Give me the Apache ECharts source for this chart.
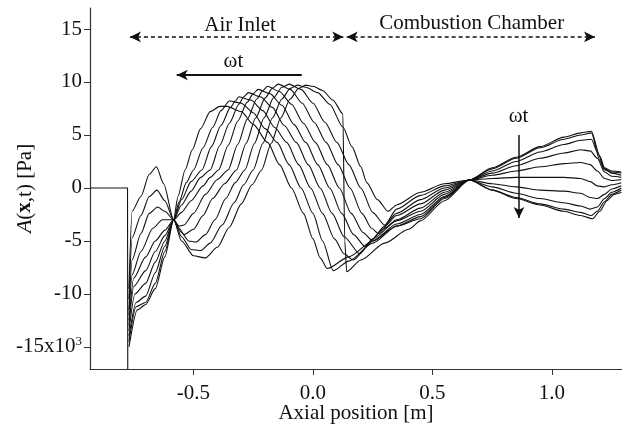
<!DOCTYPE html>
<html>
<head>
<meta charset="UTF-8">
<title>pressure_wave</title>
<script src="https://cdn.jsdelivr.net/npm/echarts@6/dist/echarts.min.js"></script>
<style>
  html, body { margin: 0; padding: 0; background: #fff; }
  #main { width: 622px; height: 428px; }
</style>
</head>
<body>
<div id="main"></div>
<script>
// tick positions
var xTicks = [-0.5, 0, 0.5, 1.0];
var yTicks = [-15, -10, -5, 0, 5, 10, 15];

// upstream part (zero) with the spike at the inlet
var upstream = [[-0.933, 0], [-0.776, 0], [-0.775, -17.08]];

// pressure profiles at successive phases [x (m), p (x10^3 Pa)]
var phase0 = [[-0.770,-9.5],[-0.757,-2.2],[-0.72,-0.8],[-0.685,1.3],[-0.655,2.0],[-0.625,0.4],[-0.583,-3.0],[-0.55,-5.0],[-0.50,-6.4],[-0.45,-6.6],[-0.40,-5.6],[-0.35,-3.7],[-0.30,-1.5],[-0.255,0.3],[-0.215,1.7],[-0.175,4.2],[-0.135,6.6],[-0.095,8.4],[-0.06,9.4],[-0.03,9.7],[0.0,9.6],[0.04,9.2],[0.083,8.3],[0.125,7.0],[0.133,-5.0],[0.141,-7.9],[0.2,-6.8],[0.3,-5.2],[0.4,-3.9],[0.45,-3.1],[0.55,-1.2],[0.655,0.75],[0.75,1.9],[0.85,2.9],[0.95,3.9],[1.05,4.8],[1.12,5.2],[1.165,5.35],[1.2,3.0],[1.22,1.9],[1.25,1.6],[1.29,1.5]];
var phase1 = [[-0.770,-10.5],[-0.757,-4.7],[-0.72,-2.6],[-0.685,-0.8],[-0.653,-0.2],[-0.62,-1.2],[-0.583,-3.0],[-0.55,-4.6],[-0.51,-5.8],[-0.47,-5.9],[-0.43,-5.2],[-0.38,-3.5],[-0.33,-1.4],[-0.29,0.3],[-0.25,1.7],[-0.21,4.2],[-0.17,6.6],[-0.13,8.4],[-0.095,9.4],[-0.065,9.7],[-0.03,9.5],[0.02,9.0],[0.07,7.9],[0.125,5.75],[0.163,3.9],[0.2,2.0],[0.225,0.5],[0.27,-1.1],[0.314,-2.2],[0.35,-1.6],[0.45,-0.4],[0.55,0.4],[0.655,0.75],[0.75,-0.2],[0.85,-1.0],[0.95,-1.6],[1.05,-2.2],[1.12,-2.6],[1.17,-2.9],[1.2,-2.2],[1.23,-1.2],[1.26,-0.6],[1.29,-0.4]];
var phase2 = [[-0.770,-11.5],[-0.757,-6.8],[-0.72,-4.3],[-0.685,-2.4],[-0.65,-1.8],[-0.62,-2.2],[-0.583,-3.0],[-0.55,-4.2],[-0.52,-5.0],[-0.49,-5.1],[-0.45,-4.4],[-0.41,-3.0],[-0.365,-1.0],[-0.325,0.5],[-0.285,1.7],[-0.245,4.2],[-0.205,6.6],[-0.165,8.5],[-0.13,9.5],[-0.10,9.8],[-0.05,9.3],[0.0,8.0],[0.05,6.2],[0.10,4.3],[0.15,2.2],[0.20,0.0],[0.25,-2.3],[0.30,-3.5],[0.35,-2.0],[0.45,-0.7],[0.55,0.2],[0.655,0.75],[0.75,-0.2],[0.85,-0.9],[0.95,-1.5],[1.05,-2.0],[1.12,-2.3],[1.165,-2.6],[1.19,-2.2],[1.22,-1.3],[1.25,-0.6],[1.29,-0.2]];
var phase3 = [[-0.770,-12.0],[-0.757,-8.2],[-0.72,-6.0],[-0.67,-3.8],[-0.63,-3.0],[-0.583,-3.0],[-0.56,-3.8],[-0.54,-4.4],[-0.50,-3.9],[-0.46,-2.6],[-0.42,-1.0],[-0.37,0.4],[-0.32,1.7],[-0.28,4.2],[-0.24,6.6],[-0.20,8.5],[-0.17,9.4],[-0.145,9.8],[-0.095,9.3],[-0.045,8.0],[0.005,6.2],[0.055,4.3],[0.105,2.2],[0.155,0.0],[0.205,-2.4],[0.245,-3.8],[0.273,-4.3],[0.35,-2.4],[0.45,-1.1],[0.55,0.0],[0.655,0.75],[0.75,0.1],[0.85,-0.5],[0.95,-1.0],[1.05,-1.4],[1.12,-1.7],[1.16,-2.0],[1.19,-1.8],[1.22,-1.0],[1.25,-0.4],[1.29,0.0]];
var phase4 = [[-0.770,-12.5],[-0.75,-8.5],[-0.70,-6.5],[-0.66,-5.0],[-0.62,-4.0],[-0.583,-3.0],[-0.56,-3.6],[-0.54,-3.5],[-0.50,-2.4],[-0.45,-0.6],[-0.40,0.8],[-0.355,1.7],[-0.315,4.1],[-0.275,6.5],[-0.235,8.4],[-0.21,9.2],[-0.19,9.6],[-0.14,9.1],[-0.09,7.9],[-0.04,6.1],[0.01,4.3],[0.06,2.2],[0.11,0.0],[0.16,-2.4],[0.21,-4.2],[0.245,-4.9],[0.3,-3.6],[0.35,-2.6],[0.45,-1.5],[0.55,-0.2],[0.655,0.75],[0.75,0.4],[0.85,0.1],[0.95,-0.2],[1.05,-0.3],[1.12,-0.5],[1.16,-0.9],[1.19,-1.0],[1.22,-0.6],[1.25,-0.1],[1.29,0.2]];
var phase5 = [[-0.770,-13.0],[-0.75,-9.3],[-0.70,-7.8],[-0.66,-6.0],[-0.62,-4.5],[-0.583,-3.0],[-0.55,-2.3],[-0.51,-1.2],[-0.46,0.2],[-0.43,1.0],[-0.395,1.7],[-0.355,4.0],[-0.315,6.3],[-0.275,8.1],[-0.25,8.9],[-0.23,9.3],[-0.18,8.9],[-0.13,7.8],[-0.08,6.0],[-0.03,4.3],[0.02,2.2],[0.07,0.0],[0.12,-2.4],[0.17,-4.4],[0.217,-5.5],[0.3,-3.8],[0.35,-3.0],[0.45,-1.9],[0.55,-0.4],[0.655,0.75],[0.75,0.9],[0.85,1.0],[0.95,1.0],[1.05,1.0],[1.12,0.9],[1.16,0.6],[1.19,0.2],[1.22,0.1],[1.25,0.3],[1.29,0.5]];
var phase6 = [[-0.770,-13.5],[-0.745,-10.0],[-0.70,-9.0],[-0.66,-7.0],[-0.62,-5.0],[-0.583,-3.0],[-0.55,-1.6],[-0.51,-0.3],[-0.47,1.0],[-0.43,1.7],[-0.39,4.0],[-0.35,6.1],[-0.31,7.9],[-0.29,8.6],[-0.27,9.0],[-0.22,8.6],[-0.17,7.6],[-0.12,5.9],[-0.07,4.3],[-0.02,2.2],[0.03,0.0],[0.08,-2.4],[0.13,-4.6],[0.196,-6.2],[0.25,-4.8],[0.35,-3.1],[0.45,-2.2],[0.55,-0.6],[0.655,0.75],[0.75,1.2],[0.85,1.6],[0.95,2.0],[1.05,2.3],[1.12,2.4],[1.16,2.2],[1.19,1.6],[1.22,0.9],[1.25,0.7],[1.29,0.8]];
var phase7 = [[-0.770,-14.0],[-0.74,-10.8],[-0.70,-10.2],[-0.66,-8.0],[-0.62,-5.5],[-0.583,-3.0],[-0.55,-1.1],[-0.51,0.6],[-0.465,1.7],[-0.425,3.9],[-0.385,5.9],[-0.345,7.6],[-0.325,8.2],[-0.31,8.6],[-0.26,8.3],[-0.21,7.3],[-0.16,5.7],[-0.11,4.3],[-0.06,2.2],[-0.01,0.0],[0.04,-2.4],[0.09,-4.8],[0.13,-6.2],[0.168,-6.8],[0.25,-5.0],[0.35,-3.4],[0.45,-2.5],[0.55,-0.8],[0.655,0.75],[0.75,1.4],[0.85,2.1],[0.95,2.8],[1.05,3.3],[1.12,3.6],[1.16,3.5],[1.19,2.8],[1.22,1.5],[1.25,1.1],[1.29,1.0]];
var phase8 = [[-0.770,-14.5],[-0.74,-11.2],[-0.70,-10.8],[-0.66,-9.0],[-0.62,-6.0],[-0.583,-3.0],[-0.56,-1.3],[-0.53,0.5],[-0.50,1.7],[-0.46,3.8],[-0.42,5.7],[-0.385,7.3],[-0.35,8.2],[-0.30,8.0],[-0.25,7.1],[-0.20,5.6],[-0.15,4.3],[-0.10,2.2],[-0.05,0.0],[0.0,-2.4],[0.04,-5.0],[0.085,-7.8],[0.15,-6.9],[0.25,-5.2],[0.35,-3.6],[0.45,-2.7],[0.55,-0.9],[0.655,0.75],[0.75,1.6],[0.85,2.5],[0.95,3.4],[1.05,4.1],[1.12,4.5],[1.165,4.6],[1.19,3.4],[1.22,1.8],[1.25,1.4],[1.29,1.2]];
var phase9 = [[-0.770,-15.0],[-0.735,-11.5],[-0.70,-11.0],[-0.66,-9.5],[-0.62,-6.5],[-0.583,-3.0],[-0.565,-0.8],[-0.535,1.7],[-0.505,3.6],[-0.47,5.6],[-0.43,7.2],[-0.39,7.7],[-0.36,7.7],[-0.30,7.2],[-0.25,6.0],[-0.19,4.3],[-0.14,2.2],[-0.09,0.0],[-0.04,-2.4],[0.0,-4.8],[0.03,-6.6],[0.06,-7.6],[0.15,-6.5],[0.25,-5.0],[0.35,-3.6],[0.45,-2.9],[0.55,-1.0],[0.655,0.75],[0.75,1.8],[0.85,2.8],[0.95,3.8],[1.05,4.6],[1.12,5.0],[1.165,5.2],[1.2,2.6],[1.22,1.7],[1.25,1.5],[1.29,1.4]];

var phases = [phase0, phase1, phase2, phase3, phase4, phase5, phase6, phase7, phase8, phase9];

var serif = '"Liberation Serif", "DejaVu Serif", serif';
var ink = '#111';

var myChart = echarts.init(document.getElementById('main'));

var series = phases.map(function (d) {
  return {
    type: 'line',
    data: d,
    symbol: 'none',
    silent: true,
    smooth: 0.25,
    smoothMonotone: 'x',
    lineStyle: { color: ink, width: 1.1 }
  };
});

// flat upstream line, carries the region / direction arrows
series.unshift({
  type: 'line',
  data: upstream,
  symbol: 'none',
  silent: true,
  lineStyle: { color: ink, width: 1.1 },
  markLine: {
    silent: true,
    animation: false,
    label: { show: false },
    symbolSize: [8, 11],
    data: [
      [{ coord: [-0.766, 14.25], symbol: 'arrow', lineStyle: { color: ink, width: 1.5, type: [4, 3] } },
       { coord: [0.127, 14.25], symbol: 'arrow' }],
      [{ coord: [0.141, 14.25], symbol: 'arrow', lineStyle: { color: ink, width: 1.5, type: [4, 3] } },
       { coord: [1.18, 14.25], symbol: 'arrow' }],
      [{ coord: [-0.047, 10.66], symbol: 'none', lineStyle: { color: ink, width: 2, type: 'solid' } },
       { coord: [-0.570, 10.66], symbol: 'arrow' }],
      [{ coord: [0.862, 5.0], symbol: 'none', lineStyle: { color: ink, width: 1.5, type: 'solid' } },
       { coord: [0.862, -2.83], symbol: 'arrow' }]
    ]
  }
});

option = {
  animation: false,
  backgroundColor: '#fff',
  grid: { left: 90, right: 0, top: 8, bottom: 59, containLabel: false, outerBoundsMode: 'none' },
  xAxis: {
    type: 'value',
    min: -0.933,
    max: 1.293,
    axisLine: { onZero: false, lineStyle: { color: '#333', width: 1.2 } },
    axisTick: { customValues: xTicks, length: 6, lineStyle: { color: '#333' } },
    axisLabel: {
      customValues: xTicks, margin: 14, color: ink, fontFamily: serif, fontSize: 21,
      formatter: function (v) { return v.toFixed(1); }
    },
    splitLine: { show: false },
    name: 'Axial position [m]',
    nameLocation: 'middle',
    nameGap: 34,
    nameMoveOverlap: false,
    nameTextStyle: { color: ink, fontFamily: serif, fontSize: 21 }
  },
  yAxis: {
    type: 'value',
    min: -17.08,
    max: 16.98,
    axisLine: { onZero: false, lineStyle: { color: '#333', width: 1.2 } },
    axisTick: { customValues: yTicks, length: 6, lineStyle: { color: '#333' } },
    axisLabel: {
      customValues: yTicks, margin: 8, color: ink, fontFamily: serif, fontSize: 21,
      formatter: function (v) { return v === -15 ? '-15x10{sup|3}' : String(v); },
      rich: { sup: { fontSize: 13, fontFamily: serif, color: ink, verticalAlign: 'top', padding: [0, 0, 10, 0] } }
    },
    splitLine: { show: false },
    name: '{a|A}({b|x},t) [Pa]',
    nameLocation: 'middle',
    nameGap: 54,
    nameRotate: 90,
    nameMoveOverlap: false,
    nameTextStyle: {
      color: ink, fontFamily: serif, fontSize: 21,
      rich: {
        a: { fontStyle: 'italic', fontFamily: serif, fontSize: 22, color: ink },
        b: { fontWeight: 'bold', fontFamily: serif, fontSize: 21, color: ink }
      }
    }
  },
  series: series
};
myChart.setOption(option);

// text annotations placed in data coordinates
var notes = [
  { text: 'Air Inlet', at: [-0.305, 15.33] },
  { text: 'Combustion Chamber', at: [0.664, 15.52] },
  { text: '\u03c9t', at: [-0.333, 11.93] },
  { text: '\u03c9t', at: [0.86, 6.7] }
];
myChart.setOption({
  graphic: notes.map(function (n) {
    var p = myChart.convertToPixel({ gridIndex: 0 }, n.at);
    return {
      type: 'text', x: p[0], y: p[1], silent: true,
      style: {
        text: n.text, fill: ink, font: '21px ' + serif,
        align: 'center', verticalAlign: 'middle',
        textAlign: 'center', textVerticalAlign: 'middle'
      }
    };
  })
});
</script>
</body>
</html>
